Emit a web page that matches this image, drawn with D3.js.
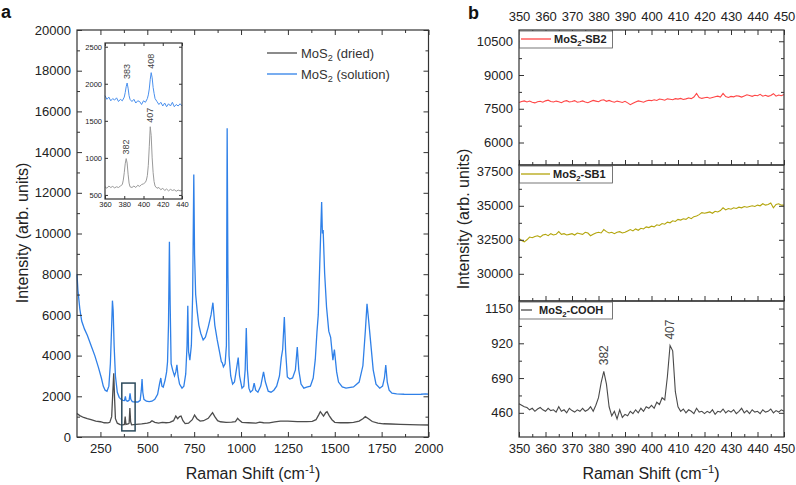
<!DOCTYPE html>
<html>
<head>
<meta charset="utf-8">
<script src="https://cdn.jsdelivr.net/npm/d3@7"></script>
<style>
body{margin:0;background:#fff;}
svg{display:block;font-family:"Liberation Sans",Arial,sans-serif;}
</style>
</head>
<body>
<svg id="chart" width="796" height="485"></svg>
<script>
// ---- panel a: full spectra, [shift (cm-1), intensity] ----
const solutionSpectrum = [
  [125,8000],[130,7200],[140,6300],[150,5700],[165,5300],[180,5000],[200,4500],[220,4000],[240,3400],
  [255,2900],[265,2500],[275,2300],[285,2250],[295,2500],[303,3600],[310,5500],[314,6700],[318,6200],
  [323,4500],[330,3000],[340,2200],[350,1950],[360,1850],[370,1800],[378,1790],[383,2000],[387,1790],
  [395,1760],[403,1800],[408,2150],[412,1850],[420,1740],[435,1720],[450,1720],[462,1800],[468,2300],
  [472,2850],[476,2200],[482,1850],[495,1760],[510,1740],[525,1760],[540,1850],[555,2100],[565,2600],
  [572,2900],[578,2500],[585,2450],[595,2800],[603,3200],[608,3700],[613,5500],[618,9600],[622,6500],
  [627,3600],[635,3300],[645,3000],[652,3200],[658,3550],[664,3000],[672,2600],[685,2400],[695,2500],
  [705,3100],[712,4500],[716,6450],[720,4200],[727,3780],[735,4500],[742,7000],[748,12900],[752,9000],
  [758,7000],[766,6200],[775,5500],[785,5100],[798,4770],[810,4900],[825,5400],[840,6000],[850,6600],
  [860,5500],[873,4770],[885,4200],[895,3700],[900,3650],[906,3450],[915,3600],[922,4500],[926,15170],
  [930,8000],[936,4000],[945,3000],[955,2600],[965,2700],[975,3300],[985,3900],[992,3000],[1005,2400],
  [1015,2500],[1022,3300],[1028,5350],[1034,3300],[1042,2400],[1050,2200],[1062,2300],[1070,2650],
  [1078,2300],[1090,2200],[1105,2500],[1120,3200],[1130,2700],[1145,2250],[1160,2200],[1175,2300],
  [1190,2500],[1205,3000],[1215,3900],[1222,4300],[1231,5900],[1238,4200],[1247,2950],[1260,2850],
  [1275,2900],[1290,3300],[1300,4420],[1308,3300],[1320,2600],[1335,2400],[1350,2450],[1370,2500],
  [1385,2900],[1396,3800],[1405,5160],[1412,6000],[1420,8500],[1430,11550],[1434,10000],[1438,10170],
  [1446,8050],[1456,6400],[1468,5200],[1478,4900],[1490,3780],[1498,4300],[1510,3200],[1520,2700],
  [1540,2460],[1560,2400],[1600,2460],[1630,2700],[1650,3500],[1663,5200],[1672,6540],[1680,5800],
  [1692,4600],[1705,3300],[1720,2600],[1740,2400],[1755,2500],[1765,2900],[1772,3540],[1780,2700],
  [1790,2300],[1805,2150],[1830,2120],[1870,2100],[1920,2090],[1960,2100],[1985,2120],[2000,2110]
];
const driedSpectrum = [
  [125,1150],[140,1050],[160,960],[180,900],[200,850],[225,780],[250,750],[270,700],[290,690],[300,720],
  [310,1000],[316,2200],[321,3130],[325,2000],[330,900],[340,680],[355,610],[370,600],[378,620],[382,1000],
  [386,620],[398,640],[403,680],[407,1420],[411,750],[416,600],[440,620],[470,640],[500,680],[515,720],
  [525,800],[540,720],[560,680],[580,720],[600,700],[620,720],[640,800],[652,1030],[662,900],[672,1000],
  [680,1030],[690,800],[702,660],[720,680],[740,850],[752,1080],[765,900],[782,780],[800,800],[825,920],
  [840,1100],[848,1195],[860,1000],[875,800],[890,750],[920,720],[950,730],[970,760],[982,920],[990,830],
  [1005,720],[1040,700],[1080,680],[1100,730],[1120,700],[1150,690],[1180,740],[1210,780],[1250,780],
  [1300,760],[1350,760],[1380,770],[1400,850],[1415,1100],[1423,1245],[1440,1030],[1452,1200],[1459,1245],
  [1470,1050],[1485,850],[1500,720],[1530,700],[1570,700],[1600,720],[1630,780],[1650,900],[1663,1000],
  [1680,900],[1700,760],[1730,680],[1760,650],[1800,640],[1850,620],[1900,610],[1950,600],[2000,590]
];

// ---- inset: zoom on the MoS2 modes ----
const insetSolution = [
  [360,1840],[362,1790],[364,1820],[366,1770],[368,1800],[370,1780],[372,1810],[374,1760],[376,1790],
  [378,1770],[380,1820],[381,1880],[382,1960],[383,2010],[384,1940],[385,1840],[386,1790],[388,1760],
  [390,1790],[392,1740],[394,1770],[396,1760],[398,1720],[400,1770],[402,1750],[404,1800],[405,1850],
  [406,1930],[407,2060],[408,2150],[409,2080],[410,1950],[411,1870],[412,1800],[414,1760],[416,1720],
  [418,1750],[420,1700],[422,1740],[424,1690],[426,1730],[428,1700],[430,1750],[432,1690],[434,1720],
  [436,1700],[438,1730],[440,1700]
];
const insetDried = [
  [360,610],[362,590],[364,620],[366,600],[368,615],[370,595],[372,610],[374,600],[376,620],[378,640],
  [379,700],[380,800],[381,920],[382,990],[383,930],[384,780],[385,660],[386,610],[388,600],[390,620],
  [392,600],[394,630],[396,615],[398,640],[400,650],[402,670],[403,700],[404,760],[405,900],[406,1150],
  [407,1420],[408,1300],[409,1000],[410,800],[411,680],[412,620],[414,590],[416,600],[418,570],[420,590],
  [422,560],[424,580],[426,555],[428,575],[430,560],[432,570],[434,550],[436,565],[438,555],[440,560]
];
const insetPeaks = [
  {shift:383, value:2010, label:"383"},
  {shift:408, value:2150, label:"408"},
  {shift:382, value:990, label:"382"},
  {shift:407, value:1420, label:"407"}
];

// ---- panel b: one reading per cm-1 from 350 to 450 ----
const shiftB = d3.range(350, 451);
const sb2 = [
  7780,7820,7850,7800,7840,7790,7760,7810,7830,7790,
  7850,7880,7820,7800,7840,7810,7770,7830,7860,7800,
  7820,7860,7790,7810,7850,7800,7770,7820,7870,7840,
  7810,7880,7900,7830,7870,7820,7790,7840,7810,7780,
  7830,7760,7680,7740,7800,7850,7820,7790,7840,7880,
  7860,7900,7870,7930,7910,7880,7940,7920,7900,7950,
  7930,7960,7910,7940,7980,7950,8020,8180,8000,7960,
  7990,8010,7970,8000,8030,8060,8020,8180,8040,8000,
  8050,8030,8080,8060,8020,8070,8120,8090,8050,8100,
  8080,8140,8060,8100,8050,8090,8170,8060,8110,8080,8130
];
const sb1 = [
  32600,32450,32350,32500,32700,32650,32750,32800,32700,32850,
  32900,32800,32950,32850,32900,33100,32900,32950,32850,32900,
  32950,32850,33000,32950,32900,33050,33000,32800,32900,33000,
  33050,33000,33250,33100,33000,33050,32950,33050,33100,33000,
  33050,33150,33250,33150,33300,33200,33350,33300,33450,33400,
  33500,33450,33600,33550,33700,33650,33800,33750,33900,33850,
  34000,33950,34050,34000,34150,34050,34200,34250,34350,34500,
  34450,34500,34550,34450,34600,34550,34650,34850,34700,34800,
  34750,34850,34800,34900,34850,34950,34900,34950,35000,34950,
  35050,35000,35150,35050,35100,35200,34850,35100,35150,35050,35050
];
const cooh = [
  520,510,500,495,480,490,470,485,495,480,
  470,490,475,480,465,500,470,480,460,490,
  475,465,480,470,490,470,480,500,470,510,
  560,660,735,650,500,440,470,420,480,430,
  450,440,470,455,480,460,490,470,500,490,
  510,490,530,515,560,545,700,905,870,600,
  500,470,485,460,480,470,455,490,465,470,
  455,470,460,480,450,470,465,485,460,475,
  465,480,455,470,490,460,475,455,480,465,
  470,455,480,465,470,485,460,475,465,480,470
];
const coohPeaks = [{shift:382, value:735, label:"382"}, {shift:407, value:905, label:"407"}];

const ticksA_x = [250,500,750,1000,1250,1500,1750,2000];
const ticksA_y = d3.range(0, 20001, 2000);
const ticksInset_x = [360,380,400,420,440];
const ticksInset_y = [500,1000,1500,2000,2500];
const ticksB_x = d3.range(350, 451, 10);
const ticksSB2 = [6000,7500,9000,10500];
const ticksSB1 = [30000,32500,35000,37500];
const ticksCOOH = [460,690,920,1150];

const svg = d3.select("#chart");
const FONT = '"Liberation Sans",Arial,sans-serif';
const ink = "#333";

/**
 * Draws one side of ticks (inward) with optional labels
 */
function addTicks(g, axisFn, scale, pos, values, size, labels, pad, fs){
    let ax = axisFn(scale).tickValues(values).tickSizeInner(-size).tickSizeOuter(0).tickPadding(pad);
    ax.tickFormat(labels ? (d=>d) : (()=>""));
    let sel = g.append("g").attr("transform", pos).call(ax);
    sel.attr("font-family", FONT).attr("font-size", fs || 13);
    sel.select(".domain").remove();
    sel.selectAll("line").attr("stroke", ink).attr("stroke-width", 1);
    sel.selectAll("text").attr("fill", "#222");
    return sel;
}

function midpoints(vals){
    let out = [];
    for(let i = 0; i < vals.length - 1; i++){
        out.push((vals[i] + vals[i+1]) / 2);
    }
    return out;
}

function mos2Text(sel, rest, fs){
    sel.append("tspan").text("MoS");
    sel.append("tspan").attr("dy", fs*0.3).attr("font-size", fs*0.7).text("2");
    sel.append("tspan").attr("dy", -fs*0.3).text(rest);
}

function ramanTitle(sel, fs, minus){
    sel.append("tspan").text("Raman Shift (cm");
    sel.append("tspan").attr("dy", -fs*0.4).attr("font-size", fs*0.7).text(minus + "1");
    sel.append("tspan").attr("dy", fs*0.4).text(")");
}

function frame(g, x, y){
    g.append("rect")
        .attr("x", x.range()[0]).attr("y", y.range()[1])
        .attr("width", x.range()[1] - x.range()[0])
        .attr("height", y.range()[0] - y.range()[1])
        .attr("fill", "none").attr("stroke", ink).attr("stroke-width", 1.2);
}

// ================= panel a =================
const xA = d3.scaleLinear().domain([125, 2000]).range([77, 428.5]);
const yA = d3.scaleLinear().domain([0, 20000]).range([437, 30]);
const gA = svg.append("g");

const lineA = d3.line().x(d => xA(d[0])).y(d => yA(d[1]));
gA.append("path").attr("d", lineA(driedSpectrum)).attr("fill", "none").attr("stroke", "#4d4d4d").attr("stroke-width", 1.3);
gA.append("path").attr("d", lineA(solutionSpectrum)).attr("fill", "none").attr("stroke", "#2f80e8").attr("stroke-width", 1.3);

// box marking the zoomed region
gA.append("rect")
    .attr("x", xA(364)).attr("y", yA(2650))
    .attr("width", xA(435) - xA(364)).attr("height", yA(300) - yA(2650))
    .attr("fill", "none").attr("stroke", "#2c4a5c").attr("stroke-width", 1.5);

frame(gA, xA, yA);
let xMinorA = midpoints([0].concat(ticksA_x)).filter(v => v > 125);
let yMinorA = midpoints(ticksA_y);
addTicks(gA, d3.axisBottom, xA, "translate(0,437)", ticksA_x, 5, true, 7);
addTicks(gA, d3.axisBottom, xA, "translate(0,437)", xMinorA, 3, false, 7);
addTicks(gA, d3.axisTop, xA, "translate(0,30)", ticksA_x, 5, false, 7);
addTicks(gA, d3.axisTop, xA, "translate(0,30)", xMinorA, 3, false, 7);
addTicks(gA, d3.axisLeft, yA, "translate(77,0)", ticksA_y, 5, true, 6);
addTicks(gA, d3.axisLeft, yA, "translate(77,0)", yMinorA, 3, false, 6);
addTicks(gA, d3.axisRight, yA, "translate(428.5,0)", ticksA_y, 5, false, 6);
addTicks(gA, d3.axisRight, yA, "translate(428.5,0)", yMinorA, 3, false, 6);

// titles
let tA = gA.append("text").attr("x", 253).attr("y", 479).attr("text-anchor", "middle").attr("font-size", 16).attr("fill", "#222");
ramanTitle(tA, 16, "-");
gA.append("text").attr("transform", "translate(22,233) rotate(-90)").attr("text-anchor", "middle")
    .attr("dominant-baseline", "central").attr("font-size", 16).attr("fill", "#222").text("Intensity (arb. units)");
svg.append("text").attr("x", 1).attr("y", 18).attr("font-size", 18).attr("font-weight", "bold").attr("fill", "#111").text("a");
svg.append("text").attr("x", 468).attr("y", 19).attr("font-size", 18).attr("font-weight", "bold").attr("fill", "#111").text("b");

// legend
const legendA = [{name:" (dried)", color:"#4d4d4d", y:53}, {name:" (solution)", color:"#2f80e8", y:74}];
for(let item of legendA){
    gA.append("line").attr("x1", 267).attr("x2", 297).attr("y1", item.y).attr("y2", item.y)
        .attr("stroke", item.color).attr("stroke-width", 1.3);
    let t = gA.append("text").attr("x", 301).attr("y", item.y + 4.5).attr("font-size", 13).attr("fill", "#333");
    mos2Text(t, item.name, 13);
}

// ---- inset ----
const xI = d3.scaleLinear().domain([360, 440]).range([105, 182]);
const yI = d3.scaleLinear().domain([445, 2550]).range([199, 43]);
const gI = svg.append("g");
gI.append("rect").attr("x", 105).attr("y", 43).attr("width", 77).attr("height", 156).attr("fill", "#fff");
const lineI = d3.line().x(d => xI(d[0])).y(d => yI(d[1]));
gI.append("path").attr("d", lineI(insetDried)).attr("fill", "none").attr("stroke", "#9a9a9a").attr("stroke-width", 1);
gI.append("path").attr("d", lineI(insetSolution)).attr("fill", "none").attr("stroke", "#4a90ee").attr("stroke-width", 1);
frame(gI, xI, yI);
addTicks(gI, d3.axisBottom, xI, "translate(0,199)", ticksInset_x, 3, true, 3, 7.5);
addTicks(gI, d3.axisTop, xI, "translate(0,43)", ticksInset_x, 3, false, 3, 7.5);
addTicks(gI, d3.axisLeft, yI, "translate(105,0)", ticksInset_y, 3, true, 3, 7.5);
addTicks(gI, d3.axisRight, yI, "translate(182,0)", ticksInset_y, 3, false, 3, 7.5);
for(let p of insetPeaks){
    gI.append("text")
        .attr("transform", `translate(${xI(p.shift) + 3},${yI(p.value) - 4}) rotate(-90)`)
        .attr("font-size", 9).attr("fill", "#444").text(p.label);
}

// ================= panel b =================
const xB = d3.scaleLinear().domain([350, 450]).range([519, 784]);
const subPanels = [
    {values:sb2, domain:[5000, 11000], range:[165, 30], ticks:ticksSB2, color:"#ff4545", name:"-SB2", lineLen:30},
    {values:sb1, domain:[28000, 38000], range:[301, 165], ticks:ticksSB1, color:"#b3a50c", name:"-SB1", lineLen:29},
    {values:cooh, domain:[300, 1200], range:[437, 301], ticks:ticksCOOH, color:"#4a4a4a", name:"-COOH", lineLen:11}
];
const gB = svg.append("g");
const xMinorB = midpoints(ticksB_x);

subPanels.forEach((p, i) => {
    const y = d3.scaleLinear().domain(p.domain).range(p.range);
    const top = p.range[1], bottom = p.range[0];
    const line = d3.line().x((d, j) => xB(shiftB[j])).y(d => y(d));
    gB.append("path").attr("d", line(p.values)).attr("fill", "none").attr("stroke", p.color).attr("stroke-width", 1.1);
    frame(gB, xB, y);

    let yMinor = midpoints(p.ticks);
    addTicks(gB, d3.axisLeft, y, "translate(519,0)", p.ticks, 5, true, 6);
    addTicks(gB, d3.axisLeft, y, "translate(519,0)", yMinor, 3, false, 6);
    addTicks(gB, d3.axisRight, y, "translate(784,0)", p.ticks, 5, false, 6);
    addTicks(gB, d3.axisRight, y, "translate(784,0)", yMinor, 3, false, 6);
    addTicks(gB, d3.axisBottom, xB, `translate(0,${bottom})`, ticksB_x, 5, i == 2, 7);
    addTicks(gB, d3.axisBottom, xB, `translate(0,${bottom})`, xMinorB, 3, false, 7);
    if(i == 0){
        addTicks(gB, d3.axisTop, xB, `translate(0,${top})`, ticksB_x, 5, true, 9);
        addTicks(gB, d3.axisTop, xB, `translate(0,${top})`, xMinorB, 3, false, 9);
    }

    // legend box
    gB.append("rect").attr("x", 519.5).attr("y", top + 1).attr("width", 93).attr("height", 17)
        .attr("fill", "#fff").attr("stroke", "#555").attr("stroke-width", 0.8);
    gB.append("line").attr("x1", 521).attr("x2", 521 + p.lineLen).attr("y1", top + 9).attr("y2", top + 9)
        .attr("stroke", p.color).attr("stroke-width", 1.3);
    let t = gB.append("text").attr("x", 524 + p.lineLen + (p.lineLen < 20 ? 4 : 0)).attr("y", top + 13)
        .attr("font-size", 11).attr("font-weight", "bold").attr("fill", "#222");
    mos2Text(t, p.name, 11);

    if(i == 2){
        for(let pk of coohPeaks){
            gB.append("text")
                .attr("transform", `translate(${xB(pk.shift) + 4},${y(pk.value) - 6}) rotate(-90)`)
                .attr("font-size", 12).attr("fill", "#444").text(pk.label);
        }
    }
});

let tB = gB.append("text").attr("x", 651).attr("y", 479).attr("text-anchor", "middle").attr("font-size", 16).attr("fill", "#222");
ramanTitle(tB, 16, "−");
gB.append("text").attr("transform", "translate(463,219) rotate(-90)").attr("text-anchor", "middle")
    .attr("dominant-baseline", "central").attr("font-size", 16).attr("fill", "#222").text("Intensity (arb. units)");
</script>
</body>
</html>
